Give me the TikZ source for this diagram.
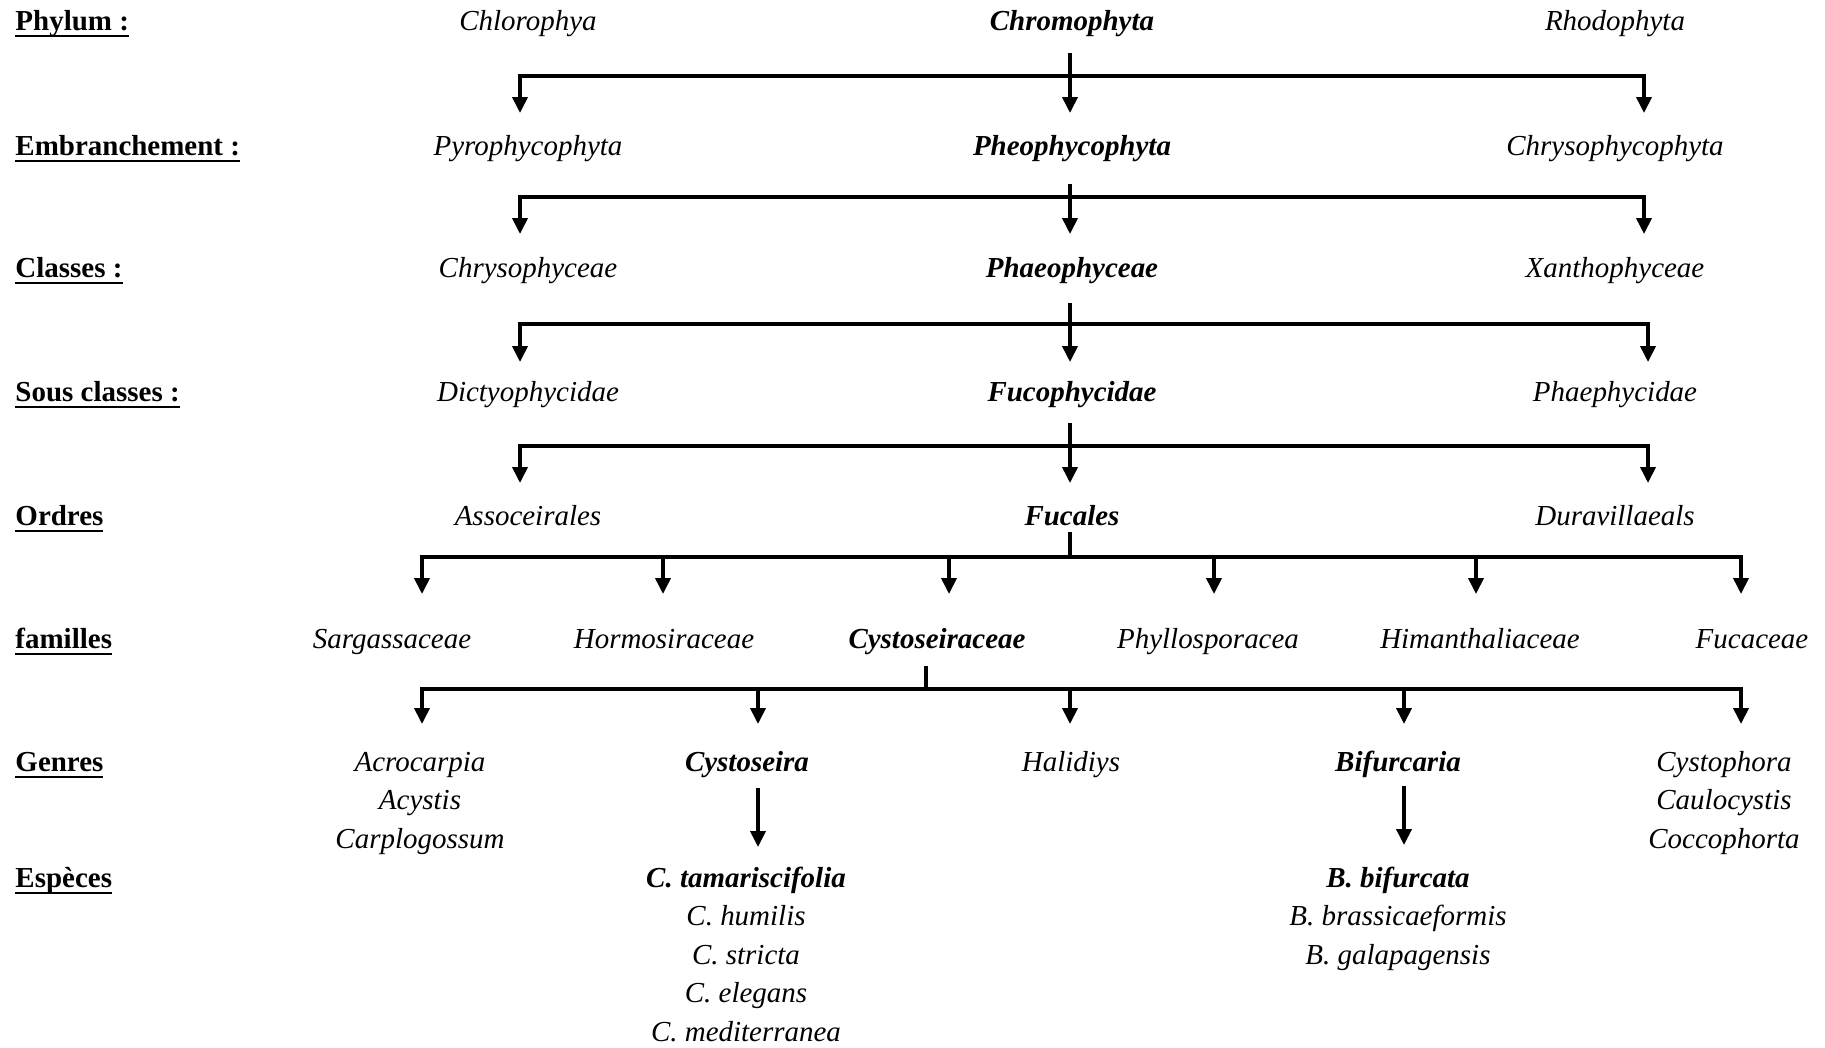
\documentclass[tikz,border=0pt]{standalone}
\usepackage{fontspec}
\setmainfont{Liberation Serif}
\usetikzlibrary{arrows.meta}
\newcommand{\rankline}[1]{\setbox0\hbox{#1}\rlap{\rule[-3pt]{\wd0}{1pt}}\box0}
\tikzstyle{line}=[line width=1.5pt]
\tikzstyle{edge}=[line width=1.5pt, -{Triangle[length=6.6pt,width=6.2pt]}]
\tikzstyle{rank}=[anchor=base west, inner sep=0pt, font=\fontsize{12}{14}\selectfont\bfseries]
\tikzstyle{taxon}=[anchor=base, inner sep=0pt, font=\fontsize{12}{14}\selectfont\itshape]
\tikzstyle{key}=[anchor=base, inner sep=0pt, font=\fontsize{12}{14}\selectfont\bfseries\itshape]

\begin{document}
\begin{tikzpicture}[x=0.4142pt, y=-0.4142pt]
	\useasboundingbox (0,0) rectangle (1825,1047);
	% rangs
	\node[rank] (lphy) at (15,30) {\rankline{Phylum :}};
	\node[rank] (lemb) at (15,155) {\rankline{Embranchement :}};
	\node[rank] (lcla) at (15,277) {\rankline{Classes :}};
	\node[rank] (lsous) at (15,401) {\rankline{Sous classes :}};
	\node[rank] (lord) at (15,525) {\rankline{Ordres}};
	\node[rank] (lfam) at (15,648) {\rankline{familles}};
	\node[rank] (lgen) at (15,771) {\rankline{Genres}};
	\node[rank] (lesp) at (15,887) {\rankline{Espèces}};

	% taxons
	\node[taxon] (chloro) at (528,30) {Chlorophya};
	\node[key] (chromo) at (1072,30) {Chromophyta};
	\node[taxon] (rhodo) at (1615,30) {Rhodophyta};
	\node[taxon] (pyro) at (528,155) {Pyrophycophyta};
	\node[key] (pheo) at (1072,155) {Pheophycophyta};
	\node[taxon] (chrysoph) at (1615,155) {Chrysophycophyta};
	\node[taxon] (chrysce) at (528,277) {Chrysophyceae};
	\node[key] (phaeo) at (1072,277) {Phaeophyceae};
	\node[taxon] (xantho) at (1615,277) {Xanthophyceae};
	\node[taxon] (dictyo) at (528,401) {Dictyophycidae};
	\node[key] (fucoph) at (1072,401) {Fucophycidae};
	\node[taxon] (phaeph) at (1615,401) {Phaephycidae};
	\node[taxon] (assoc) at (528,525) {Assoceirales};
	\node[key] (fucal) at (1072,525) {Fucales};
	\node[taxon] (durav) at (1615,525) {Duravillaeals};

	\node[taxon] (sarga) at (392,648) {Sargassaceae};
	\node[taxon] (hormo) at (664,648) {Hormosiraceae};
	\node[key] (cystac) at (937,648) {Cystoseiraceae};
	\node[taxon] (phyllo) at (1208,648) {Phyllosporacea};
	\node[taxon] (himan) at (1480,648) {Himanthaliaceae};
	\node[taxon] (fucac) at (1752,648) {Fucaceae};

	\node[taxon] (acro) at (420,771) {Acrocarpia};
	\node[taxon] (acys) at (420,809.5) {Acystis};
	\node[taxon] (carplo) at (420,848) {Carplogossum};
	\node[key] (cysto) at (747,771) {Cystoseira};
	\node[taxon] (halid) at (1071,771) {Halidiys};
	\node[key] (bifur) at (1398,771) {Bifurcaria};
	\node[taxon] (cystoph) at (1724,771) {Cystophora};
	\node[taxon] (caulo) at (1724,809.5) {Caulocystis};
	\node[taxon] (cocco) at (1724,848) {Coccophorta};

	\node[key] (ctama) at (746,887) {C. tamariscifolia};
	\node[taxon] (chumi) at (746,925.5) {C. humilis};
	\node[taxon] (cstri) at (746,964) {C. stricta};
	\node[taxon] (celeg) at (746,1002.5) {C. elegans};
	\node[taxon] (cmedi) at (746,1041) {C. mediterranea};
	\node[key] (bbifu) at (1398,887) {B. bifurcata};
	\node[taxon] (bbras) at (1398,925.5) {B. brassicaeformis};
	\node[taxon] (bgala) at (1398,964) {B. galapagensis};

	% Phylum -> Embranchement
	\coordinate (s1) at (1070,53);
	\coordinate (j1) at (1070,76);
	\coordinate (t1a) at (520,113);
	\coordinate (t1b) at (1070,113);
	\coordinate (t1c) at (1644,113);
	\draw[edge] (s1) -- (t1b);
	\draw[edge] (j1) -| (t1a);
	\draw[edge] (j1) -| (t1c);

	% Embranchement -> Classes
	\coordinate (s2) at (1070,184);
	\coordinate (j2) at (1070,197);
	\coordinate (t2a) at (520,234);
	\coordinate (t2b) at (1070,234);
	\coordinate (t2c) at (1644,234);
	\draw[edge] (s2) -- (t2b);
	\draw[edge] (j2) -| (t2a);
	\draw[edge] (j2) -| (t2c);

	% Classes -> Sous classes
	\coordinate (s3) at (1070,303);
	\coordinate (j3) at (1070,324);
	\coordinate (t3a) at (520,362);
	\coordinate (t3b) at (1070,362);
	\coordinate (t3c) at (1648,362);
	\draw[edge] (s3) -- (t3b);
	\draw[edge] (j3) -| (t3a);
	\draw[edge] (j3) -| (t3c);

	% Sous classes -> Ordres
	\coordinate (s4) at (1070,423);
	\coordinate (j4) at (1070,446);
	\coordinate (t4a) at (520,483);
	\coordinate (t4b) at (1070,483);
	\coordinate (t4c) at (1648,483);
	\draw[edge] (s4) -- (t4b);
	\draw[edge] (j4) -| (t4a);
	\draw[edge] (j4) -| (t4c);

	% Ordres -> familles
	\coordinate (s5) at (1070,532);
	\coordinate (j5) at (1070,557);
	\draw[line] (s5) -- (j5);
	\foreach \x in {422,663,949,1214,1476,1741}
		\draw[edge] (j5) -| (\x,594);

	% familles -> Genres
	\coordinate (s6) at (926,666);
	\coordinate (j6) at (926,689);
	\draw[line] (s6) -- (j6);
	\foreach \x in {422,758,1070,1404,1741}
		\draw[edge] (j6) -| (\x,724);

	% Genres -> Especes
	\coordinate (s7) at (758,788);
	\coordinate (t7) at (758,847);
	\coordinate (s8) at (1404,786);
	\coordinate (t8) at (1404,845);
	\draw[edge] (s7) -- (t7);
	\draw[edge] (s8) -- (t8);
\end{tikzpicture}
\end{document}
